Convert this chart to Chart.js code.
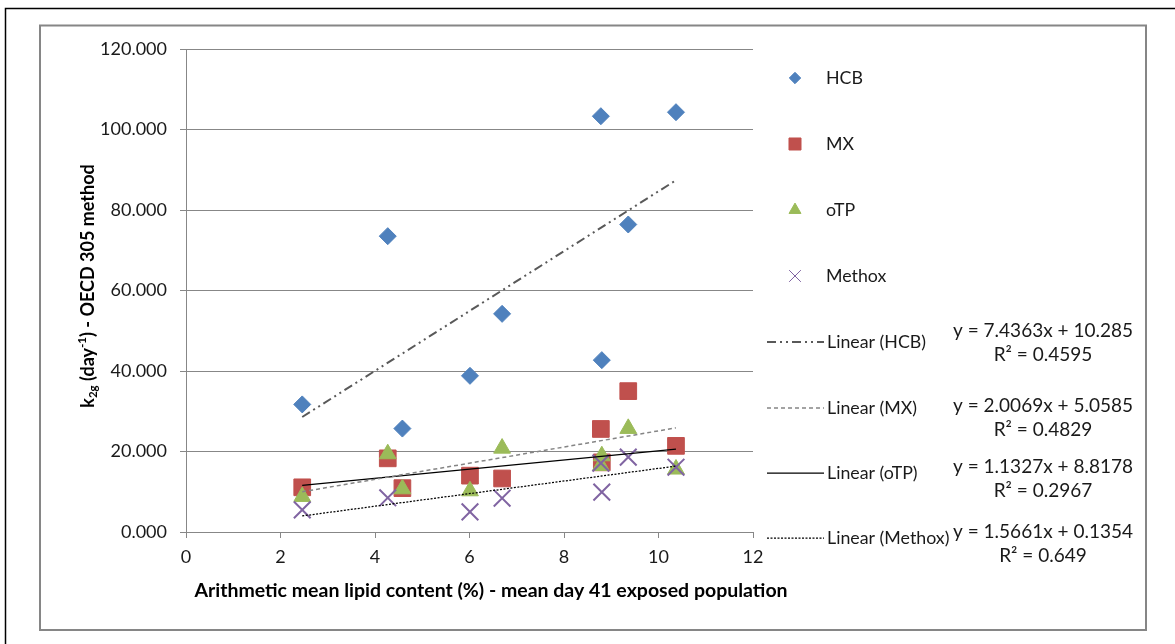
<!DOCTYPE html>
<html>
<head>
<meta charset="utf-8">
<script src="https://cdn.jsdelivr.net/npm/chart.js@4/dist/chart.umd.min.js"></script>
<style>
  body { margin: 0; background: #fff; }
  canvas { display: block; }
</style>
</head>
<body>
<canvas id="k2gChart" width="1175" height="644"></canvas>
<script>
// lipid content (%) per sample
const lipid = [2.46, 4.27, 4.58, 6.01, 6.69, 8.78, 8.8, 9.36, 10.37];

// k2g values per substance, same order as lipid
const hcb = [31.7, 73.5, 25.7, 38.8, 54.2, 103.3, 42.7, 76.4, 104.3];
const mx = [11.1, 18.3, 10.9, 14.0, 13.3, 25.6, 17.3, 35.0, 21.4];
const otp = [8.8, 19.4, 10.7, 10.2, 20.8, 16.5, 18.9, 25.7, 15.6];
const methox = [5.5, 8.5, null, 5.0, 8.4, 17.1, 9.9, 18.6, 16.1];

// trendline fits shown on the chart
const seriesNames = ['HCB', 'MX', 'oTP', 'Methox'];
const slopes = [7.4363, 2.0069, 1.1327, 1.5661];
const intercepts = [10.285, 5.0585, 8.8178, 0.1354];
const r2 = ['0.4595', '0.4829', '0.2967', '0.649'];

const yTicks = [0, 20, 40, 60, 80, 100, 120];
const xTicks = [0, 2, 4, 6, 8, 10, 12];

const colors = ['#4f81bd', '#c0504d', '#9bbb59', '#8064a2'];
const styles = ['rectRot', 'rect', 'triangle', 'crossRot'];
const radii = [8.5, 11.8, 9.7, 11.8];
const legendRadii = [5.7, 8.5, 6.9, 8.3];
const trendDash = [[9, 4, 2, 4, 2, 4], [4, 3], [], [2, 1.5]];
const trendColor = ['#595959', '#858585', '#000000', '#000000'];
const trendWidth = [2, 1.5, 1.25, 1.25];

const FONT = 'Lato, "Liberation Sans", sans-serif';

function points(ys) {
  const out = [];
  ys.forEach((y, i) => { if (y !== null) out.push({x: lipid[i], y: y}); });
  return out;
}

function trend(ys, k) {
  const xs = lipid.filter((x, i) => ys[i] !== null);
  const x0 = Math.min(...xs), x1 = Math.max(...xs);
  return [
    {x: x0, y: slopes[k] * x0 + intercepts[k]},
    {x: x1, y: slopes[k] * x1 + intercepts[k]}
  ];
}

const allSeries = [hcb, mx, otp, methox];
const datasets = [];
allSeries.forEach((ys, k) => {
  datasets.push({
    label: seriesNames[k],
    data: points(ys),
    pointStyle: styles[k],
    pointRadius: radii[k],
    pointHoverRadius: radii[k],
    backgroundColor: colors[k],
    borderColor: colors[k],
    borderWidth: k === 3 ? 2 : 1,
    order: 5 - k
  });
});
allSeries.forEach((ys, k) => {
  datasets.push({
    label: 'Linear (' + seriesNames[k] + ')',
    data: trend(ys, k),
    showLine: true,
    pointRadius: 0,
    borderColor: trendColor[k],
    borderWidth: trendWidth[k],
    borderDash: trendDash[k],
    order: 0
  });
});

// frames, legend and axis titles
const decor = {
  id: 'decor',
  beforeDraw(chart) {
    const c = chart.ctx;
    c.save();
    c.fillStyle = '#fff';
    c.fillRect(0, 0, chart.width, chart.height);
    c.strokeStyle = '#000';
    c.lineWidth = 1.5;
    c.beginPath();
    c.moveTo(5.5, 644); c.lineTo(5.5, 8.5); c.lineTo(1175, 8.5);
    c.stroke();
    c.strokeStyle = '#868686';
    c.lineWidth = 2;
    c.strokeRect(40, 25.5, 1106, 604.5);
    c.restore();
  },
  afterDraw(chart) {
    const c = chart.ctx;
    c.save();
    c.fillStyle = '#1a1a1a';
    c.textBaseline = 'middle';

    // marker legend
    const rowY = [78, 144, 210, 276];
    seriesNames.forEach((name, k) => {
      c.fillStyle = colors[k];
      c.strokeStyle = colors[k];
      c.lineWidth = 1;
      Chart.helpers.drawPoint(c, {pointStyle: styles[k], radius: legendRadii[k], borderWidth: 1, rotation: 0}, 795, rowY[k]);
      c.fillStyle = '#1a1a1a';
      c.font = '17.8px ' + FONT;
      c.textAlign = 'left';
      c.fillText(name, 826, rowY[k]);
    });

    // trendline legend with equations
    const lineY = [342, 408, 473, 538];
    const eqY = [331, 406, 467, 532];
    seriesNames.forEach((name, k) => {
      c.strokeStyle = trendColor[k];
      c.lineWidth = trendWidth[k];
      c.setLineDash(trendDash[k]);
      c.beginPath();
      c.moveTo(767, lineY[k]);
      c.lineTo(824, lineY[k]);
      c.stroke();
      c.setLineDash([]);
      c.fillStyle = '#1a1a1a';
      c.font = '17.8px ' + FONT;
      c.textAlign = 'left';
      c.fillText('Linear (' + name + ')', 827, lineY[k]);
      c.font = '19px ' + FONT;
      c.textAlign = 'center';
      c.fillText('y = ' + slopes[k] + 'x + ' + intercepts[k], 1043, eqY[k]);
      c.fillText('R\u00b2 = ' + r2[k], 1043, eqY[k] + 24);
    });

    // x title
    c.font = 'bold 19.5px ' + FONT;
    c.textAlign = 'center';
    c.fillStyle = '#000';
    c.fillText('Arithmetic mean lipid content (%) - mean day 41 exposed population', 491, 591);

    // y title with sub/superscript
    const parts = [
      {t: 'k', s: 18, dy: 0},
      {t: '2g', s: 11.5, dy: 5},
      {t: ' (day', s: 18, dy: 0},
      {t: '-1', s: 11.5, dy: -6},
      {t: ') - OECD 305 method', s: 18, dy: 0}
    ];
    let total = 0;
    parts.forEach(p => { c.font = 'bold ' + p.s + 'px ' + FONT; p.w = c.measureText(p.t).width; total += p.w; });
    c.translate(88, 286);
    c.rotate(-Math.PI / 2);
    c.textAlign = 'left';
    let px = -total / 2;
    parts.forEach(p => {
      c.font = 'bold ' + p.s + 'px ' + FONT;
      c.fillText(p.t, px, p.dy);
      px += p.w;
    });
    c.restore();
  }
};

const grey = '#878787';
new Chart(document.getElementById('k2gChart'), {
  type: 'scatter',
  data: {datasets: datasets},
  options: {
    responsive: false,
    animation: false,
    events: [],
    layout: {padding: {left: 0, top: 49, right: 422, bottom: 52}},
    plugins: {legend: {display: false}, tooltip: {enabled: false}},
    scales: {
      x: {
        type: 'linear',
        min: 0, max: 12,
        afterBuildTicks: s => { s.ticks = xTicks.map(v => ({value: v})); },
        afterFit: s => { s.height = 60; },
        grid: {drawOnChartArea: false, color: grey, tickLength: 6, tickColor: grey},
        border: {color: grey, width: 1},
        ticks: {color: '#1a1a1a', font: {family: FONT, size: 18}, padding: 8}
      },
      y: {
        type: 'linear',
        min: 0, max: 120,
        afterBuildTicks: s => { s.ticks = yTicks.map(v => ({value: v})); },
        afterFit: s => { s.width = 186; },
        grid: {color: grey, tickLength: 6, tickColor: grey},
        border: {color: grey, width: 1},
        ticks: {color: '#1a1a1a', font: {family: FONT, size: 18}, padding: 13, callback: v => v.toFixed(3)}
      }
    }
  },
  plugins: [decor]
});
</script>
</body>
</html>
